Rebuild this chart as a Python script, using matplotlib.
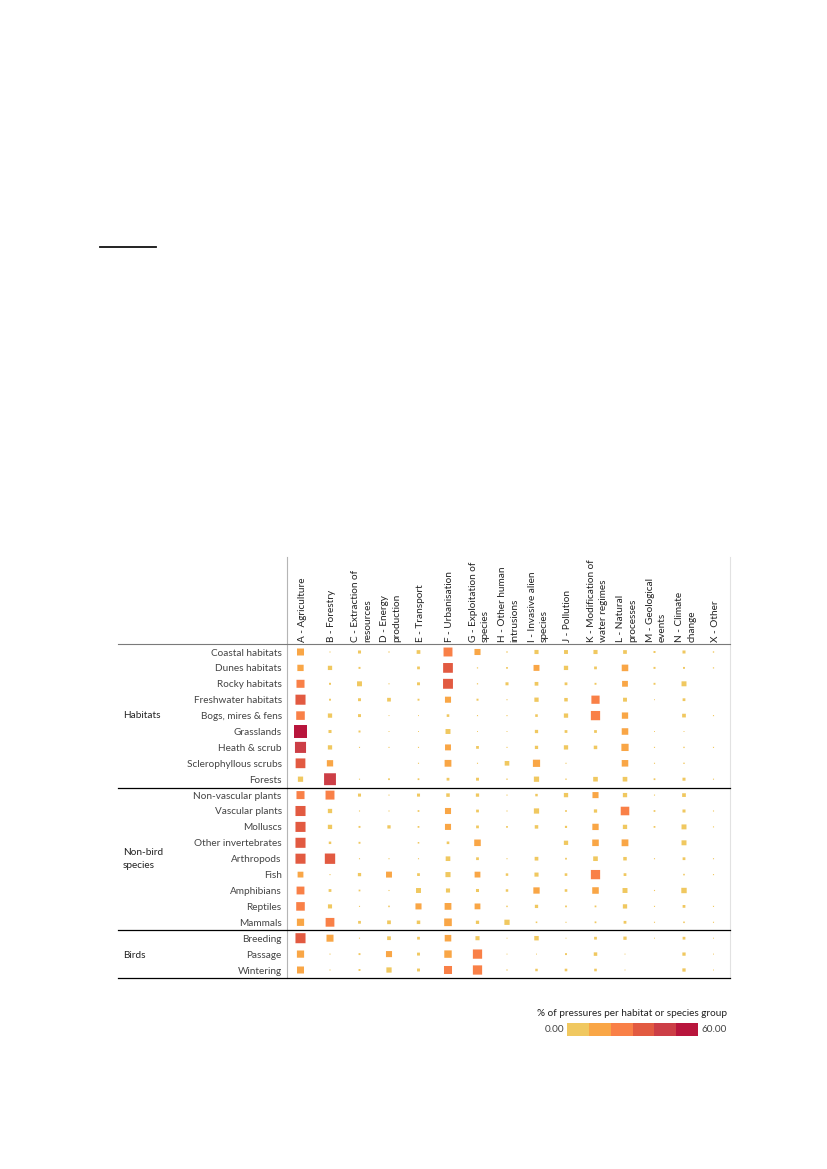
"""Pressures per habitat or species group, shown as a square-mark matrix."""
import matplotlib
matplotlib.use("Agg")
import matplotlib.pyplot as plt
import numpy as np
from matplotlib.colors import BoundaryNorm, ListedColormap
from matplotlib.transforms import ScaledTranslation

W, H = 827, 1169
n = np.nan

pressures = [
    "A - Agriculture", "B - Forestry", "C - Extraction of\nresources", "D - Energy\nproduction",
    "E - Transport", "F - Urbanisation", "G - Exploitation of\nspecies", "H - Other human\nintrusions",
    "I - Invasive alien\nspecies", "J - Pollution", "K - Modification of\nwater regimes",
    "L - Natural\nprocesses", "M - Geological\nevents", "N - Climate\nchange", "X - Other",
]
groups = [
    "Coastal habitats", "Dunes habitats", "Rocky habitats", "Freshwater habitats", "Bogs, mires & fens",
    "Grasslands", "Heath & scrub", "Sclerophyllous scrubs", "Forests", "Non-vascular plants",
    "Vascular plants", "Molluscs", "Other invertebrates", "Arthropods", "Fish", "Amphibians",
    "Reptiles", "Mammals", "Breeding", "Passage", "Wintering",
]

coastal = [16, .4, 3, .5, 4.5, 26, 12, .6, 5.5, 5, 5.5, 4.5, 1.3, 3, .6]
dunes = [13, 6, 1.3, n, 2.5, 31, .5, 1, 11.5, 6, 2.5, 14, 1.3, 1.2, .5]
rocky = [21, 1.3, 8, .4, 2.8, 32, .5, 3, 4.5, 2.5, 1.2, 11, 1.2, 8, n]
freshwater = [33, 1.2, 2.8, 4.5, 1.2, 12, 1.3, .4, 6, 4, 22, 5, .3, 2.5, n]
bogs = [24, 6, 2.8, .3, .3, 2.2, .4, .4, 2.2, 6, 28, 13, n, 4.5, .4]
grasslands = [55, 3, 1.3, .3, .3, 8, .3, .3, 3.5, 2.5, 2.5, 14, .3, .3, n]
heath = [40, 6, .4, .4, .4, 11.5, 2.5, .4, 3.5, 6, 4, 17, .4, .6, .4]
sclerophyllous = [31, 13, n, n, .4, 15, .4, 7, 17, .4, n, 14, .4, .6, n]
forests = [9, 46, .4, 1, 1, 2.5, 2.8, .6, 9, .6, 7, 7, 1, 3, .4]
non_vascular = [21, 26, 3, .4, 3, 4, 3.5, .4, 2, 6, 12, 6, .4, 4.5, n]
vascular = [33, 6, .4, .4, 1, 12, 2.5, .4, 9, 1, 3.5, 24, 1, 3, .4]
molluscs = [33, 6, 1.2, 3.5, 1, 12, 2.5, 1, 4, 1.5, 13, 6, 1, 8, .4]
other_invertebrates = [33, 2, 1.2, n, .8, 2.2, 14, n, n, 6, 14, 15, n, 8, n]
arthropods = [33, 35, .4, .4, .4, 7, 2.5, .4, 4.5, 1, 7, 4, .4, 2.5, .4]
fish = [11, .4, 3.5, 11.5, 2.5, 8.5, 11, 2, 5.5, 2.2, 28, 2.5, n, .8, .4]
amphibians = [20, 2.5, 1, .4, 8, 5.5, 3, 2, 13, 2.2, 14, 8, .4, 9.5, n]
reptiles = [24, 5.5, .4, .8, 12, 15, 11, .7, 3.5, 1, 1, 6, .4, 2.5, .4]
mammals = [17, 25, 2.5, 4.5, 4, 19, 3.5, 9, .8, .4, 1, 2.5, .4, .8, .4]
breeding = [33, 16, .4, 4.5, 2.5, 14, 5.5, .3, 6.5, .3, 2.5, 3.5, .3, 2.5, .3]
passage = [17, .4, 1.2, 12, 2.8, 18, 28, .3, .3, 1.2, 4, .3, n, 3.5, .3]
wintering = [16, .4, 1.2, 9, 2.8, 21, 28, .5, 2, 2.2, 2.2, .3, n, 3.5, .3]

values = np.array([
    coastal, dunes, rocky, freshwater, bogs, grasslands, heath, sclerophyllous, forests,
    non_vascular, vascular, molluscs, other_invertebrates, arthropods, fish, amphibians,
    reptiles, mammals, breeding, passage, wintering,
])

bin_colors = ["#F0C860", "#F9A646", "#F98047", "#E25A41", "#CC3E46", "#B8153C"]
bin_edges = [0, 10, 20, 30, 40, 50, 60]

plt.rcParams["font.family"] = ["Lato", "DejaVu Sans"]
TEXT = "#444444"
FS = 7.2


def fx(px):
    return px / W


def fy(px):
    return 1 - px / H


fig = plt.figure(figsize=(W / 100, H / 100), dpi=100)

# matrix axes: columns 29.5 px apart, rows 15.9 px apart
left, right, top, bottom = 286.5, 730, 644.5, 978
ax = fig.add_axes([fx(left), fy(bottom), fx(right - left), (bottom - top) / H])
ax.set_xlim((left - 300.5) / 29.5, (right - 300.5) / 29.5)
ax.set_ylim((bottom - 652) / 15.9, (top - 652) / 15.9)

xx, yy = np.meshgrid(np.arange(len(pressures)), np.arange(len(groups)))
cmap = ListedColormap(bin_colors)
norm = BoundaryNorm(bin_edges, cmap.N)
marks = ax.scatter(xx.ravel(), yy.ravel(), s=values.ravel() * 1.59, c=values.ravel(), cmap=cmap, norm=norm,
                   marker="s", linewidths=0)
marks.set_snap(False)

ax.set_yticks(np.arange(len(groups)), groups, fontsize=FS, color=TEXT)
ax.xaxis.tick_top()
ax.set_xticks(np.arange(len(pressures)))
ax.set_xticklabels(pressures, rotation=90, fontsize=FS, color="#222222", ha="center", va="bottom",
                   multialignment="left", linespacing=1.45)
ax.tick_params(length=0)
ax.tick_params(axis="y", pad=3.5)
ax.tick_params(axis="x", pad=1.5)
# labels sit a little right of their column
nudge = ScaledTranslation(2 / 100, 0, fig.dpi_scale_trans)
for label in ax.get_xticklabels():
    label.set_transform(label.get_transform() + nudge)
for side in ["top", "bottom", "left", "right"]:
    ax.spines[side].set_visible(False)

# frame lines reach past the axes, so they go on the figure
fig.add_artist(plt.Line2D([fx(286.5)] * 2, [fy(557), fy(978)], color="#b5b5b5", lw=0.8))
fig.add_artist(plt.Line2D([fx(730)] * 2, [fy(557), fy(978)], color="#e2e2e2", lw=0.8))
fig.add_artist(plt.Line2D([fx(118), fx(730)], [fy(644.5)] * 2, color="#7a7a7a", lw=0.8))
for y_line in [787.7, 930, 978]:
    fig.add_artist(plt.Line2D([fx(118), fx(730)], [fy(y_line)] * 2, color="black", lw=0.9))

# heading rule left on the page above the chart
fig.add_artist(plt.Line2D([fx(100), fx(156)], [fy(247)] * 2, color="#111111", lw=1.3))

fig.text(fx(123), fy(716), "Habitats", fontsize=FS, color="#222222", va="center")
fig.text(fx(123), fy(859), "Non-bird\nspecies", fontsize=FS, color="#222222", va="center", linespacing=1.55)
fig.text(fx(123), fy(955), "Birds", fontsize=FS, color="#222222", va="center")

# legend strip
leg = fig.add_axes([fx(567), fy(1036), fx(698 - 567), 13.3 / H])
leg.bar(bin_edges[:-1], [1] * 6, width=10, align="edge", color=bin_colors)
leg.set_xlim(0, 60)
leg.set_ylim(0, 1)
leg.axis("off")
fig.text(fx(727), fy(1013), "% of pressures per habitat or species group", fontsize=FS, color="#222222",
         ha="right", va="center")
fig.text(fx(564), fy(1030), "0.00", fontsize=FS, color=TEXT, ha="right", va="center")
fig.text(fx(701), fy(1030), "60.00", fontsize=FS, color=TEXT, ha="left", va="center")

fig.savefig("out.png", dpi=100)
plt.close(fig)
